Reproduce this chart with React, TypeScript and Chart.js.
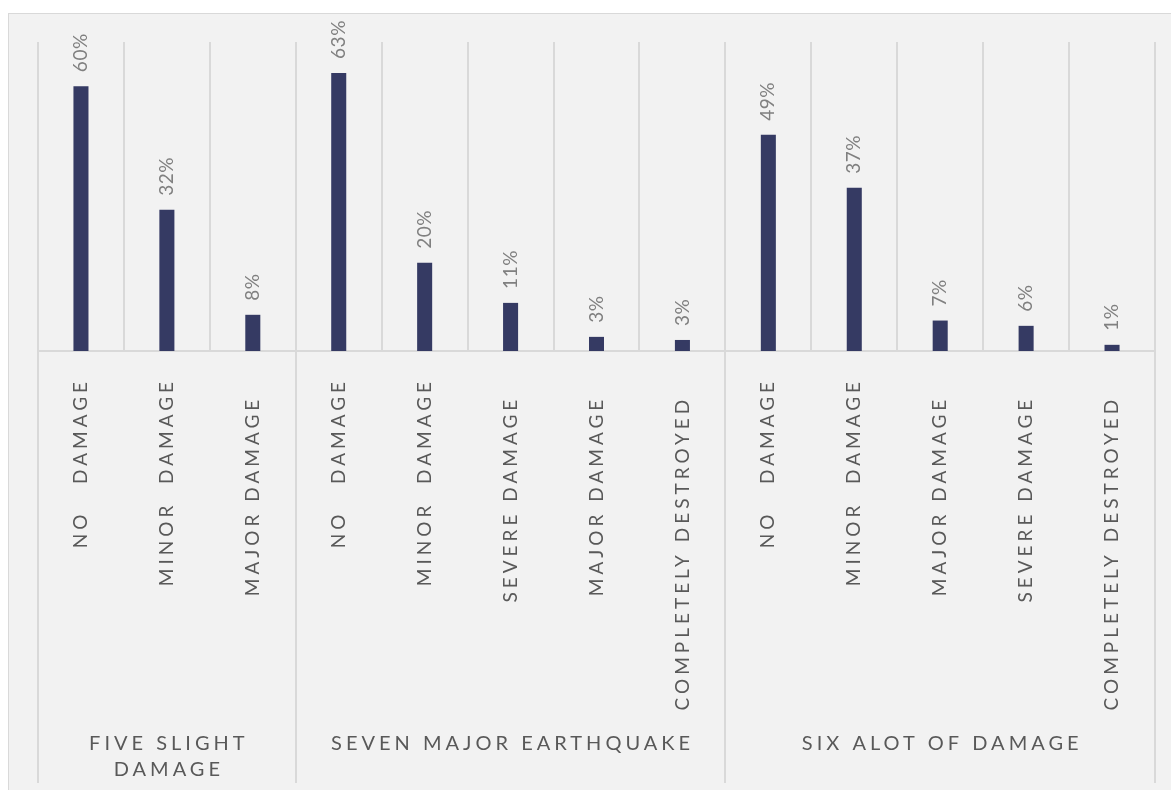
import React, { useEffect, useRef } from 'react';
import { Chart, registerables } from 'chart.js';

Chart.register(...registerables);

// ---- data ----
const groupNames = ['FIVE SLIGHT DAMAGE', 'SEVEN MAJOR EARTHQUAKE', 'SIX ALOT OF DAMAGE'];
const groupSizes = [3, 5, 5];
const categories = [
  'NO   DAMAGE', 'MINOR  DAMAGE', 'MAJOR DAMAGE  ',
  'NO   DAMAGE', 'MINOR  DAMAGE', 'SEVERE DAMAGE  ', 'MAJOR DAMAGE  ', 'COMPLETELY DESTROYED  ',
  'NO   DAMAGE', 'MINOR  DAMAGE', 'MAJOR DAMAGE  ', 'SEVERE DAMAGE  ', 'COMPLETELY DESTROYED  ',
];
const values = [60, 32, 8.2, 63, 20, 10.9, 3.2, 2.5, 49, 37, 6.9, 5.7, 1.4];
const yMax = 70;

const FONT = 'Lato, "Open Sans", sans-serif';
const GRID = '#d9d9d9';

const decorPlugin = {
  id: 'decor',
  afterDraw(chart: any) {
    const { ctx, chartArea, scales } = chart;
    const x = scales.x;
    const half = (x.getPixelForValue(1) - x.getPixelForValue(0)) / 2;
    const bottom = chartArea.bottom;

    // group dividers below the axis
    const bounds: number[] = [x.getPixelForValue(0) - half];
    let idx = 0;
    groupSizes.forEach((n) => {
      idx += n;
      bounds.push(x.getPixelForValue(idx - 1) + half);
    });
    ctx.save();
    ctx.strokeStyle = GRID;
    ctx.lineWidth = 2;
    bounds.forEach((b) => {
      const bx = Math.round(b);
      ctx.beginPath();
      ctx.moveTo(bx, bottom);
      ctx.lineTo(bx, bottom + 432);
      ctx.stroke();
    });
    ctx.restore();

    // data labels (rotated)
    const meta = chart.getDatasetMeta(0);
    ctx.save();
    ctx.fillStyle = '#808080';
    ctx.font = `19px ${FONT}`;
    (ctx as any).letterSpacing = '0.5px';
    meta.data.forEach((bar: any, i: number) => {
      ctx.save();
      ctx.translate(bar.x, bar.y - 14);
      ctx.rotate(-Math.PI / 2);
      ctx.textAlign = 'left';
      ctx.textBaseline = 'middle';
      ctx.fillText(Math.round(values[i]) + '%', 0, 0);
      ctx.restore();
    });
    ctx.restore();

    // category labels (rotated)
    ctx.save();
    ctx.fillStyle = '#595959';
    ctx.font = `19px ${FONT}`;
    (ctx as any).letterSpacing = '4px';
    categories.forEach((label, i) => {
      ctx.save();
      ctx.translate(x.getPixelForValue(i), bottom + 27);
      ctx.rotate(-Math.PI / 2);
      ctx.textAlign = 'right';
      ctx.textBaseline = 'middle';
      ctx.fillText(label, 0, 0);
      ctx.restore();
    });
    ctx.restore();

    // group labels
    ctx.save();
    ctx.fillStyle = '#595959';
    ctx.font = `20px ${FONT}`;
    (ctx as any).letterSpacing = '4px';
    ctx.textAlign = 'center';
    ctx.textBaseline = 'middle';
    groupNames.forEach((name, g) => {
      const left = bounds[g];
      const right = bounds[g + 1];
      const maxW = right - left - 20;
      const words = name.split(' ');
      const lines: string[] = [];
      let cur = '';
      words.forEach((w) => {
        const test = cur ? cur + ' ' + w : w;
        if (ctx.measureText(test).width > maxW && cur) {
          lines.push(cur);
          cur = w;
        } else {
          cur = test;
        }
      });
      if (cur) lines.push(cur);
      lines.forEach((ln, k) => {
        ctx.fillText(ln, (left + right) / 2 + 2, bottom + 393 + k * 26);
      });
    });
    ctx.restore();
  },
};

export default function App() {
  const ref = useRef<HTMLCanvasElement | null>(null);

  useEffect(() => {
    document.body.style.overflow = 'hidden';
    document.documentElement.style.overflow = 'hidden';
    if (!ref.current) return;
    const chart = new Chart(ref.current, {
      type: 'bar',
      data: {
        labels: categories,
        datasets: [
          {
            data: values,
            backgroundColor: '#353a63',
            borderWidth: 0,
            barPercentage: 0.175,
            categoryPercentage: 1,
          },
        ],
      },
      options: {
        responsive: false,
        maintainAspectRatio: false,
        devicePixelRatio: 1,
        animation: false,
        layout: { padding: { left: 29, right: 16, top: 28, bottom: 0 } },
        plugins: {
          legend: { display: false },
          tooltip: { enabled: false },
        },
        scales: {
          x: {
            offset: true,
            grid: { display: true, offset: true, color: GRID, lineWidth: 2, drawTicks: false },
            border: { display: true, color: GRID, width: 2 },
            ticks: { display: false },
            afterFit(scale: any) {
              scale.height = 439;
            },
          },
          y: {
            display: false,
            min: 0,
            max: yMax,
          },
        },
      },
      plugins: [decorPlugin],
    });
    return () => chart.destroy();
  }, []);

  return (
    <div
      style={{
        position: 'absolute',
        left: 8,
        top: 13,
        width: 1163,
        height: 777,
        background: '#f2f2f2',
        borderTop: '1px solid #d9d9d9',
        borderLeft: '1px solid #d9d9d9',
        boxSizing: 'border-box',
        overflow: 'hidden',
      }}
    >
      <canvas ref={ref} width={1162} height={776} style={{ display: 'block' }} />
    </div>
  );
}
